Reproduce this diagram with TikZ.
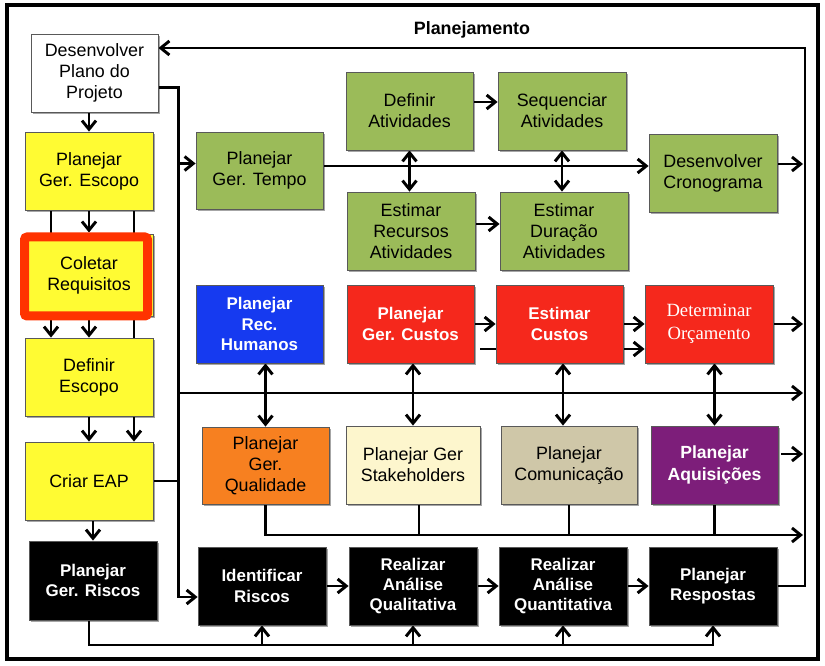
\documentclass[tikz,border=0pt]{standalone}
\usepackage{fontspec}
\setmainfont{Liberation Sans}
\newfontfamily\serifx{Liberation Serif}
\usetikzlibrary{arrows.meta,shadows,calc}
\pgfdeclarelayer{bg}
\pgfdeclarelayer{paper}
\pgfsetlayers{paper,bg,main}
\definecolor{cyel}{RGB}{255,251,51}
\definecolor{cgrn}{RGB}{155,187,89}
\definecolor{cblu}{RGB}{22,58,240}
\definecolor{cred}{RGB}{245,40,28}
\definecolor{cora}{RGB}{247,128,32}
\definecolor{ccre}{RGB}{253,246,205}
\definecolor{ctan}{RGB}{207,199,168}
\definecolor{cpur}{RGB}{125,30,122}
\definecolor{hlred}{RGB}{255,51,0}
\newcommand\mkbox[7]{%
  \pgfmathsetmacro\bxc{(#2+#4)/2}%
  \pgfmathsetmacro\byc{(#3+#5)/2}%
  \pgfmathsetmacro\bw{(#4-#2)*0.75}%
  \pgfmathsetmacro\bh{(#5-#3)*0.75}%
  \node[box,#6,minimum width=\bw pt,minimum height=\bh pt] (#1) at (\bxc,\byc) {#7};}
\begin{document}
\begin{tikzpicture}[x=0.75pt,y=-0.75pt,
  box/.style={draw=black!65, line width=0.6pt, align=center, inner sep=1pt,
    font=\fontsize{13.4}{15.8}\selectfont,
    drop shadow={shadow xshift=1.2pt, shadow yshift=-1.2pt, opacity=0.35, fill=black}},
  wbold/.style={text=white, font=\bfseries\fontsize{12.7}{15.2}\selectfont},
  ln/.style={line width=2.2pt},
  arr/.style={ln, -{Straight Barb[length=6.5pt,width=10.5pt]}},
  darr/.style={ln, {Straight Barb[length=6.5pt,width=10.5pt]}-{Straight Barb[length=6.5pt,width=10.5pt]}}]
\useasboundingbox (0,0) rectangle (825,666);
\begin{pgfonlayer}{paper}
\fill[white] (0,0) rectangle (825,666);
\end{pgfonlayer}
\draw[line width=2.6pt] (7,5) rectangle (818,659);
\node[font=\bfseries\fontsize{13.4}{15}\selectfont] (title) at (472,30) {Planejamento};

% left column
\mkbox{desen}{31}{34}{158}{112}{fill=white}{Desenvolver\\Plano do\\Projeto}
\mkbox{escopo}{25}{132}{153}{210}{fill=cyel}{Planejar\\Ger. Escopo}
\mkbox{colet}{25}{234}{153}{316}{fill=cyel}{Coletar\\Requisitos}
\mkbox{defesc}{25}{338}{153}{416}{fill=cyel}{Definir\\Escopo}
\mkbox{eap}{25}{442}{153}{520}{fill=cyel}{Criar EAP}
\mkbox{riscos}{29}{541}{157}{620}{fill=black,wbold}{Planejar\\Ger. Riscos}
\node[draw=hlred, line width=6.75pt, rounded corners=2pt, inner sep=0pt,
  minimum width=92.25pt, minimum height=59.25pt] (hl) at (86,276.5) {};

% time
\mkbox{tempo}{196}{132}{323}{209}{fill=cgrn}{Planejar\\Ger. Tempo}
\mkbox{defat}{346}{72}{473}{150}{fill=cgrn}{Definir\\Atividades}
\mkbox{seq}{498}{72}{626}{150}{fill=cgrn}{Sequenciar\\Atividades}
\mkbox{estrec}{347}{192}{475}{270}{fill=cgrn}{Estimar\\Recursos\\Atividades}
\mkbox{estdur}{500}{192}{628}{270}{fill=cgrn}{Estimar\\Duração\\Atividades}
\mkbox{crono}{649}{134}{777}{212}{fill=cgrn}{Desenvolver\\Cronograma}

% cost row
\mkbox{rh}{196}{285}{323}{363}{fill=cblu,wbold}{Planejar\\Rec.\\Humanos}
\mkbox{custos}{347}{285}{474}{363}{fill=cred,wbold}{Planejar\\Ger. Custos}
\mkbox{estc}{496}{285}{623}{363}{fill=cred,wbold}{Estimar\\Custos}
\mkbox{orc}{645}{285}{773}{363}{fill=cred,text=white,font=\serifx\fontsize{14}{17}\selectfont}{Determinar\\Orçamento}

% middle row
\mkbox{qual}{202}{427}{329}{504}{fill=cora}{Planejar\\Ger.\\Qualidade}
\mkbox{stake}{346}{426}{480}{504}{fill=ccre}{Planejar Ger\\Stakeholders}
\mkbox{comun}{501}{426}{637}{504}{fill=ctan}{Planejar\\Comunicação}
\mkbox{aquis}{651}{426}{778}{504}{fill=cpur,text=white,font=\bfseries\fontsize{13.2}{17}\selectfont}{Planejar\\Aquisições}

% risk row
\mkbox{ident}{198}{547}{326}{625}{fill=black,wbold}{Identificar\\Riscos}
\mkbox{quali}{349}{547}{477}{625}{fill=black,wbold}{Realizar\\Análise\\Qualitativa}
\mkbox{quant}{499}{547}{627}{625}{fill=black,wbold}{Realizar\\Análise\\Quantitativa}
\mkbox{resp}{649}{547}{777}{625}{fill=black,wbold}{Planejar\\Respostas}

\coordinate (trunk) at (179,0);
\coordinate (rbus) at (805,0);
\coordinate (rin) at (803,0);
\coordinate (looptop) at (805,48);
\coordinate (h393) at (0,393);
\coordinate (h535) at (0,535);
\coordinate (h645) at (0,645);
\coordinate (xl) at (51,0);
\coordinate (xr) at (134,0);
\coordinate (x89) at (89,0);
\coordinate (x563) at (563,0);
\coordinate (x419) at (419,0);

\begin{pgfonlayer}{bg}
% feedback loop
\draw[arr] (resp.east) -| (looptop) -- (desen.east |- looptop);
% trunk
\draw[arr] ($(desen.north east)!0.68!(desen.south east)$) -| ($(ident.west)+(-19,11)$) -- ($(ident.west)+(0,11)$);
\coordinate (tin) at ($(tempo.west)+(0,-7)$);
\draw[arr] (trunk |- tin) -- (tin);
\draw[arr] (trunk |- h393) -- (rin |- h393);
\draw[ln] (eap.east) -- (trunk |- eap.east);
% left column
\draw[arr] (escopo.north |- desen.south) -- (escopo.north);
\draw[arr] (escopo.south) -- (escopo.south |- hl.north);
\draw[arr] (xl |- escopo.south) -- (xl |- defesc.north);
\draw[arr] (xr |- escopo.south) -- (xr |- eap.north);
\draw[arr] (colet.south |- hl.south) -- (defesc.north);
\draw[arr] (defesc.south) -- (eap.north);
\draw[arr] (riscos.north |- eap.south) -- (riscos.north);
% bottom loop
\draw[arr] (x89 |- riscos.south) -- (x89 |- h645) -| (resp.south);
\draw[arr] (ident.south |- h645) -- (ident.south);
\draw[arr] (quali.south |- h645) -- (quali.south);
\draw[arr] (quant.south |- h645) -- (quant.south);
\draw[arr] (ident.east) -- (quali.west);
\draw[arr] (quali.east) -- (quant.west);
\draw[arr] (quant.east) -- (resp.west);
% time
\draw[arr] ($(defat.east)+(0,-9)$) -- ($(seq.west)+(0,-9)$);
\draw[arr] ($(estrec.east)+(0,-7)$) -- ($(estdur.west)+(0,-7)$);
\coordinate (tout) at ($(tempo.east)+(0,-4.5)$);
\draw[arr] (tout) -- (crono.west |- tout);
\coordinate (cout) at ($(crono.east)+(0,-9)$);
\draw[arr] (cout) -- (rin |- cout);
\draw[darr] (defat.south) -- (defat.south |- estrec.north);
\draw[darr] (seq.south) -- (seq.south |- estdur.north);
% cost
\draw[arr] (custos.east) -- (estc.west);
\draw[arr] ($(custos.east)+(6,25)$) -- ($(orc.west)+(0,25)$);
\draw[arr] (estc.east) -- (orc.west);
\draw[arr] (orc.east) -- (rin |- orc.east);
\draw[darr] (qual.north |- rh.south) -- (qual.north);
\draw[darr] (stake.north |- custos.south) -- (stake.north);
\draw[darr] (x563 |- estc.south) -- (x563 |- comun.north);
\draw[darr] (aquis.north |- orc.south) -- (aquis.north);
% middle row
\draw[arr] (qual.south) |- (rin |- h535);
\draw[ln] (x419 |- stake.south) -- (x419 |- h535);
\draw[ln] (comun.south) -- (comun.south |- h535);
\draw[ln] (aquis.south) -- (aquis.south |- h535);
\coordinate (aout) at ($(aquis.east)+(0,-11)$);
\draw[arr] ($(aout)+(3,0)$) -- (rin |- aout);
\end{pgfonlayer}
\end{tikzpicture}
\end{document}
